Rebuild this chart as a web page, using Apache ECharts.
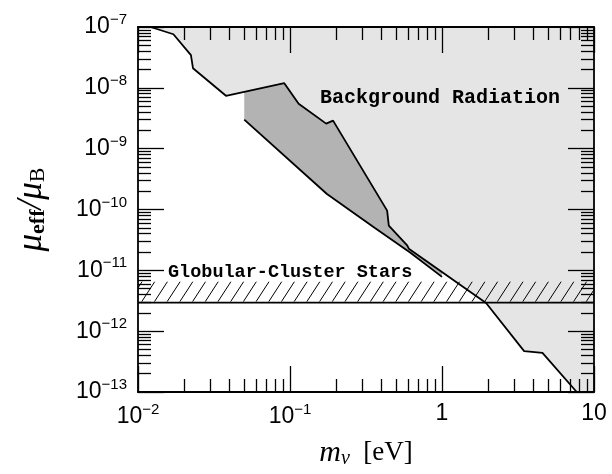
<!DOCTYPE html>
<html lang="en">
<head>
    <meta charset="UTF-8">
    <title>mu_eff limits</title>
    <script src="https://cdn.jsdelivr.net/npm/echarts@6/dist/echarts.min.js"></script>
    <style>
        html, body { margin: 0; padding: 0; background: #fff; }
    </style>
</head>
<body>
<div id="chartmain" style="width: 612px; height: 474px;"></div>
<script type="text/javascript">
    // background radiation boundary (m_nu [eV], mu_eff/mu_B)
    var bgM  = [0.0121, 0.0171, 0.0223, 0.0230, 0.0379, 0.0917, 0.114, 0.173, 0.192, 0.4355, 0.4467, 0.59, 0.605, 1.95, 3.47, 4.58, 7.7];
    var bgMu = [1e-7, 7.6e-8, 3.45e-8, 2.1e-8, 7.4e-9, 1.19e-8, 5.47e-9, 2.58e-9, 2.89e-9, 9.57e-11, 5.45e-11, 2.57e-11, 2.27e-11, 2.9e-12, 4.7e-13, 4.4e-13, 1e-13];

    // dark region: upper edge and lower line
    var darkUpM  = [0.05, 0.0917, 0.114, 0.173, 0.192, 0.4355, 0.4467, 0.59, 0.605, 1.0];
    var darkUpMu = [8.6e-9, 1.19e-8, 5.47e-9, 2.58e-9, 2.89e-9, 9.57e-11, 5.45e-11, 2.57e-11, 2.27e-11, 9.2e-12];
    var lowM  = [0.05, 0.175, 0.36, 0.62, 1.0];
    var lowMu = [3e-9, 1.8e-10, 5e-11, 1.95e-11, 7.8e-12];

    // globular cluster band
    var bandLo = 2.95e-12;
    var bandHi = 6.5e-12;

    // axes
    var xMin = 0.01, xMax = 10, yMin = 1e-13, yMax = 1e-7;
    var xMajor = [0.01, 0.1, 1, 10];
    var xLabels = ['10^−2', '10^−1', '1', '10'];
    var yMajor = [1e-13, 1e-12, 1e-11, 1e-10, 1e-9, 1e-8, 1e-7];
    var yLabels = ['10^−13', '10^−12', '10^−11', '10^−10', '10^−9', '10^−8', '10^−7'];

    function minors(lo, hi) {
        var out = [];
        for (var d = lo; d < hi; d++) {
            for (var k = 2; k <= 9; k++) out.push(k * Math.pow(10, d));
        }
        return out;
    }
    var xMinor = minors(-2, 1);
    var yMinor = minors(-13, -7);

    function zip(a, b) {
        var out = [];
        for (var i = 0; i < a.length; i++) out.push([a[i], b[i]]);
        return out;
    }

    function labelFor(vals, texts) {
        return function (v) {
            for (var i = 0; i < vals.length; i++) {
                if (Math.abs(Math.log10(v) - Math.log10(vals[i])) < 1e-6) {
                    var p = texts[i].split('^');
                    return p.length > 1 ? '{b|' + p[0] + '}{s|' + p[1] + '}' : '{b|' + p[0] + '}';
                }
            }
            return '';
        };
    }

    var richTick = {
        b: { fontSize: 23, fontFamily: 'Liberation Sans', color: '#000' },
        s: { fontSize: 15, fontFamily: 'Liberation Sans', color: '#000', padding: [0, 0, 14, 0] }
    };

    function makeAxis(type, pos, ticks, len, line, labels) {
        var isX = (pos === 'bottom' || pos === 'top');
        var ax = {
            type: 'log',
            logBase: 10,
            min: isX ? xMin : yMin,
            max: isX ? xMax : yMax,
            position: pos,
            z: 5,
            axisLine: { show: line, onZero: false, lineStyle: { color: '#000', width: 1.8 } },
            axisTick: { show: true, inside: true, length: len, customValues: ticks,
                lineStyle: { color: '#000', width: 1.3 } },
            minorTick: { show: false },
            splitLine: { show: false },
            axisLabel: { show: false }
        };
        if (labels) {
            ax.axisLabel = {
                show: true,
                customValues: ticks,
                margin: isX ? 10 : 11,
                formatter: isX ? labelFor(xMajor, xLabels) : labelFor(yMajor, yLabels),
                rich: richTick
            };
        }
        return ax;
    }

    var xAxes = [
        makeAxis('x', 'bottom', xMajor, 26, true, true),
        makeAxis('x', 'bottom', xMinor, 13, false, false),
        makeAxis('x', 'top', xMajor, 26, true, false),
        makeAxis('x', 'top', xMinor, 13, false, false)
    ];
    var yAxes = [
        makeAxis('y', 'left', yMajor, 26, true, true),
        makeAxis('y', 'left', yMinor, 13, false, false),
        makeAxis('y', 'right', yMajor, 26, true, false),
        makeAxis('y', 'right', yMinor, 13, false, false)
    ];

    xAxes[0].name = '{m|m}{nu|ν}{t|  [eV]}';
    xAxes[0].nameLocation = 'middle';
    xAxes[0].nameGap = 45;
    xAxes[0].nameTextStyle = {
        rich: {
            m: { fontSize: 30, fontFamily: 'Liberation Serif', fontStyle: 'italic', color: '#000' },
            nu: { fontSize: 20, fontFamily: 'Liberation Serif', fontStyle: 'italic', color: '#000', padding: [12, 0, 0, 0] },
            t: { fontSize: 27, fontFamily: 'Liberation Serif', color: '#000' }
        }
    };
    yAxes[0].name = '{m|μ}{e|eff}{m|/μ}{B|B}';
    yAxes[0].nameLocation = 'middle';
    yAxes[0].nameRotate = 90;
    yAxes[0].nameGap = 89;
    yAxes[0].nameTextStyle = {
        rich: {
            m: { fontSize: 35, fontFamily: 'Liberation Serif', fontStyle: 'italic', color: '#000' },
            e: { fontSize: 22, fontFamily: 'Liberation Serif', fontWeight: 'bold', color: '#000', padding: [13, 0, 0, 0] },
            B: { fontSize: 22, fontFamily: 'Liberation Serif', color: '#000', padding: [13, 0, 0, 0] }
        }
    };

    function polygonSeries(points, color, z) {
        return {
            type: 'custom',
            xAxisIndex: 0, yAxisIndex: 0,
            silent: true,
            z: z,
            data: [[1, 1e-10]],
            renderItem: function (params, api) {
                var pts = points.map(function (p) { return api.coord(p); });
                return { type: 'polygon', shape: { points: pts }, style: { fill: color } };
            }
        };
    }

    var lightPoly = zip(bgM, bgMu).concat([[xMax, yMin], [xMax, yMax]]);
    var darkPoly = zip(darkUpM, darkUpMu).concat(zip(lowM, lowMu).reverse());

    var hatchSeries = {
        type: 'custom',
        xAxisIndex: 0, yAxisIndex: 0,
        silent: true,
        z: 3,
        data: [[1, 1e-10]],
        renderItem: function (params, api) {
            var lt = api.coord([xMin, bandHi]);
            var rb = api.coord([xMax, bandLo]);
            var xl = lt[0], xr = rb[0], yt = lt[1], yb = rb[1] - 1;
            var h = yb - yt, dx = h * 0.65, step = 12.7;
            var kids = [];
            for (var x0 = xl - dx + 4; x0 < xr; x0 += step) {
                var x1 = x0, y1 = yb, x2 = x0 + dx, y2 = yt, t;
                if (x1 < xl) { t = (xl - x1) / dx; x1 = xl; y1 = yb - t * h; }
                if (x2 > xr) { t = (x2 - xr) / dx; x2 = xr; y2 = yt + t * h; }
                if (x2 <= x1) continue;
                kids.push({ type: 'line', shape: { x1: x1, y1: y1, x2: x2, y2: y2 },
                    style: { stroke: '#000', lineWidth: 1 } });
            }
            return { type: 'group', children: kids };
        }
    };

    function lineSeries(data) {
        return {
            type: 'line',
            xAxisIndex: 0, yAxisIndex: 0,
            data: data,
            symbol: 'none',
            silent: true,
            z: 4,
            lineStyle: { color: '#000', width: 1.8 }
        };
    }

    var option = {
        animation: false,
        backgroundColor: '#fff',
        grid: { left: 138, right: 18, top: 27, bottom: 80 },
        xAxis: xAxes,
        yAxis: yAxes,
        graphic: [
            { type: 'text', left: 320, top: 88, z: 10,
              style: { text: 'Background Radiation', font: 'bold 20px "Liberation Mono"', fill: '#000' } },
            { type: 'text', left: 168, top: 263, z: 10,
              style: { text: 'Globular-Cluster Stars', font: 'bold 18.5px "Liberation Mono"', fill: '#000' } }
        ],
        series: [
            polygonSeries(lightPoly, '#e5e5e5', 1),
            polygonSeries(darkPoly, '#b3b3b3', 2),
            hatchSeries,
            lineSeries(zip(bgM, bgMu)),
            lineSeries(zip(lowM, lowMu)),
            lineSeries([[xMin, bandLo], [xMax, bandLo]])
        ]
    };

    var myChart = echarts.init(document.getElementById('chartmain'));
    myChart.setOption(option);
</script>
</body>
</html>
